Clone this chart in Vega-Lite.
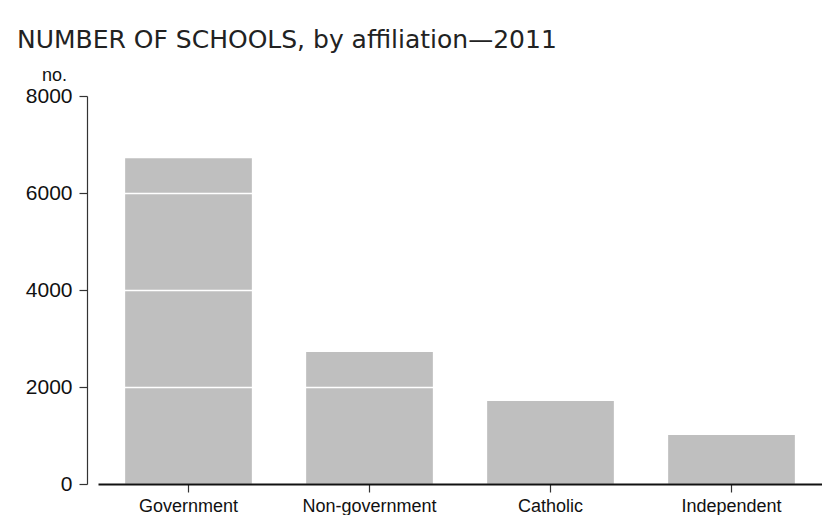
{
  "$schema": "https://vega.github.io/schema/vega-lite/v6.json",
  "width": 724,
  "height": 388,
  "autosize": {"type": "none"},
  "padding": {"left": 98, "top": 96, "right": 0, "bottom": 31},
  "background": "white",
  "title": {
    "text": "NUMBER OF SCHOOLS, by affiliation\u20142011",
    "anchor": "start",
    "frame": "group",
    "dx": -81,
    "offset": -7,
    "baseline": "alphabetic",
    "font": "DejaVu Sans",
    "fontSize": 25,
    "fontWeight": "normal",
    "color": "#222222"
  },
  "data": {
    "values": [
      {"affiliation": "Government", "schools": 6715},
      {"affiliation": "Non-government", "schools": 2722},
      {"affiliation": "Catholic", "schools": 1711},
      {"affiliation": "Independent", "schools": 1010}
    ]
  },
  "mark": {"type": "bar", "color": "#bfbfbf"},
  "encoding": {
    "x": {
      "field": "affiliation",
      "type": "nominal",
      "sort": null,
      "scale": {"paddingInner": 0.3, "paddingOuter": 0.15},
      "axis": {
        "title": null,
        "labelAngle": 0,
        "labelFont": "Liberation Sans",
        "labelFontSize": 18,
        "labelColor": "#111111",
        "labelPadding": 5,
        "tickSize": 8,
        "tickColor": "#333333",
        "tickWidth": 1.2,
        "domainColor": "#111111",
        "domainWidth": 2,
        "zindex": 2
      }
    },
    "y": {
      "field": "schools",
      "type": "quantitative",
      "scale": {"domain": [0, 8000], "nice": false},
      "axis": {
        "values": [0, 2000, 4000, 6000, 8000],
        "format": "d",
        "offset": 11,
        "title": "no.",
        "titleAngle": 0,
        "titleX": -33,
        "titleY": -16,
        "titleAlign": "center",
        "titleBaseline": "alphabetic",
        "titleFont": "Liberation Sans",
        "titleFontSize": 18,
        "titleFontWeight": "normal",
        "titleColor": "#111111",
        "labelFont": "Liberation Sans",
        "labelFontSize": 21,
        "labelColor": "#111111",
        "labelPadding": 7,
        "tickSize": 8,
        "tickColor": "#333333",
        "tickWidth": 1.2,
        "domainColor": "#333333",
        "domainWidth": 1.2,
        "grid": true,
        "gridColor": "white",
        "gridWidth": 1.5,
        "zindex": 1
      }
    }
  },
  "config": {"view": {"stroke": null}}
}
